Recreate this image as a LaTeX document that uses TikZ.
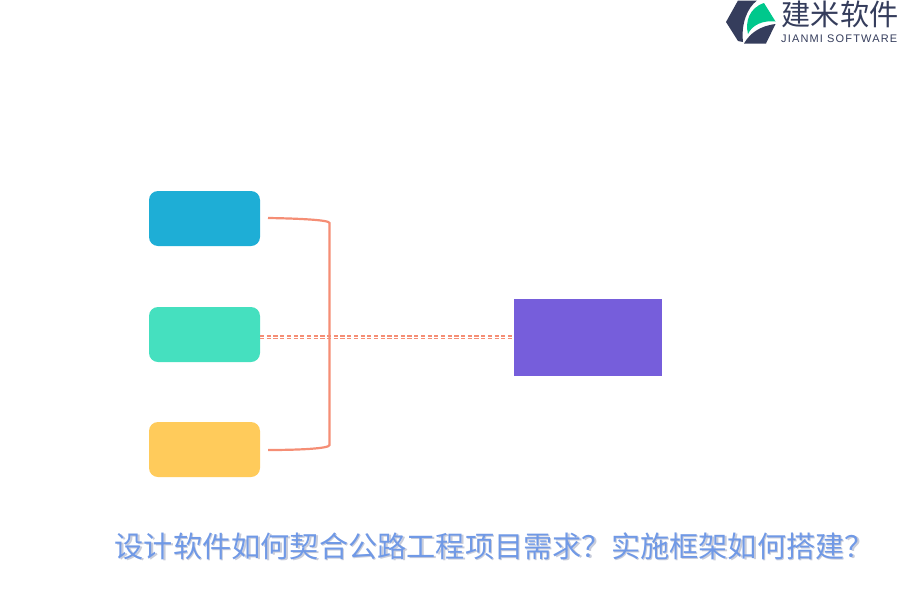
\documentclass[tikz,border=0pt]{standalone}
\usepackage{fontspec}
\usetikzlibrary{positioning}
\newfontfamily\cjk{Noto Sans CJK SC}
\newfontfamily\logolatin[LetterSpace=10.5]{Liberation Sans}
\definecolor{boxblue}{HTML}{1EAED6}
\definecolor{boxgreen}{HTML}{45E0BF}
\definecolor{boxyellow}{HTML}{FFCB5B}
\definecolor{boxpurple}{HTML}{765EDB}
\definecolor{linkorange}{HTML}{F58E75}
\definecolor{logodark}{HTML}{353D5C}
\definecolor{logogreen}{HTML}{00C88C}
\definecolor{titleblue}{HTML}{7099E6}
\definecolor{titleshade}{HTML}{C8CCDA}

\begin{document}
\begin{tikzpicture}[
	x=1pt,
	y=-1pt,
	every box/.style={minimum width=111pt, minimum height=55pt, inner sep=0pt, outer sep=0pt, rounded corners=9pt},
	target box/.style={minimum width=148pt, minimum height=77pt, inner sep=0pt, outer sep=0pt, fill=boxpurple},
	bracket/.style={draw=linkorange, line width=2.2pt},
	dotted link/.style={draw=linkorange, line width=1.5pt, dash pattern=on 4.2pt off 2.5pt},
	title text/.style={inner sep=0pt, font=\cjk\fontsize{29.2}{30}\selectfont}
]

\useasboundingbox (0, 0) rectangle (900, 600);

\foreach \n/\c/\y in {top/boxblue/218.5, middle/boxgreen/334.5, bottom/boxyellow/449.5}
	\node [every box, fill=\c] (box-\n) at (204.5, \y) {};

\node [target box] (box-target) at (588, 337.5) {};

\coordinate (bracket-top) at (268, 218);
\coordinate (bracket-bottom) at (268, 450);
\coordinate (link-start-1) at (260, 335.8);
\coordinate (link-start-2) at (260, 338.5);
\coordinate (link-end-1) at (514, 335.8);
\coordinate (link-end-2) at (514, 338.5);

\draw [bracket] (bracket-top) .. controls (300, 218.5) and (329.5, 220) .. (329.5, 223) -- (329.5, 445) .. controls (329.5, 448.5) and (300, 450) .. (bracket-bottom);

\foreach \i in {1, 2}
	\draw [dotted link] (link-start-\i) -- (link-end-\i);

% title with its soft shadow
\node [title text, text=titleshade, anchor=west] (title-shade) at (116, 547.5) {设计软件如何契合公路工程项目需求？实施框架如何搭建？};
\node [title text, text=titleblue, anchor=west] (title) at (114.5, 546) {设计软件如何契合公路工程项目需求？实施框架如何搭建？};

% logo
\fill [logodark] (726, 22) -- (738, 0.5) -- (757, 0.5) .. controls (747, 8) and (741, 24) .. (743, 42) -- (738, 41) -- cycle;
\fill [logogreen] (748, 34) .. controls (745, 22) and (749, 8) .. (764, 3) -- (775.5, 21.5) .. controls (763, 20) and (752, 25) .. cycle;
\fill [logodark] (744, 43.5) .. controls (750, 33) and (760, 26) .. (775.5, 24) -- (766, 43.5) -- cycle;

\node [anchor=west, inner sep=0pt, text=logodark, font=\cjk\fontsize{29.2}{30}\selectfont] (logo-name) at (781.5, 14.5) {建米软件};
\node [anchor=west, inner sep=0pt, text=logodark, font=\logolatin\fontsize{11}{12}\selectfont] (logo-latin) at (781, 38.5) {JIANMI SOFTWARE};

\end{tikzpicture}
\end{document}
